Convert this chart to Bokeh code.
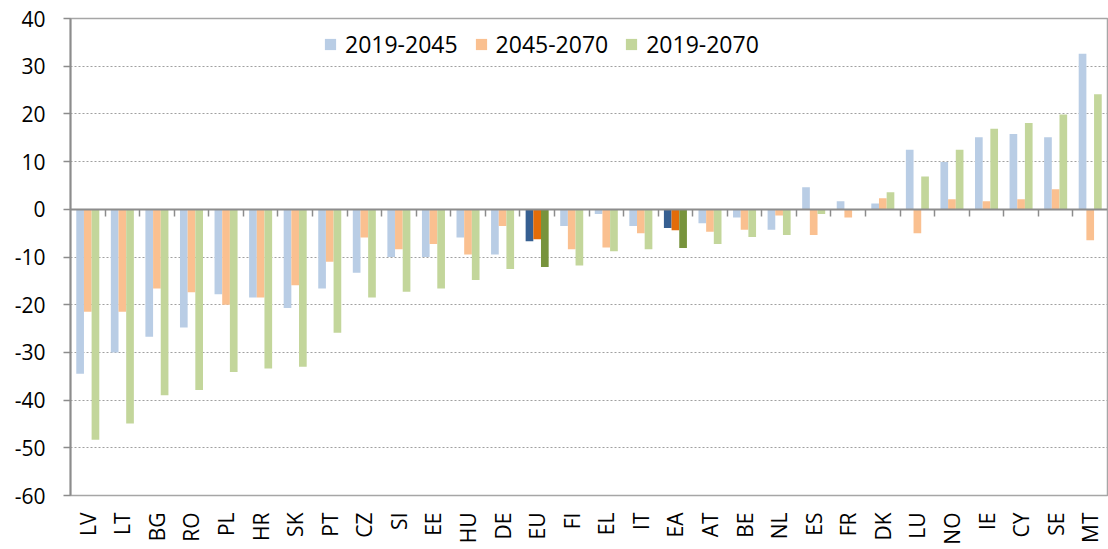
import math
from bokeh.plotting import figure
from bokeh.models import (ColumnDataSource, Range1d, LinearAxis, FixedTicker,
                          SingleIntervalTicker, Legend, LegendItem, CustomJSTickFormatter)
from bokeh.embed import file_html
from bokeh.resources import INLINE

# ---------------- data ----------------
categories = ["LV", "LT", "BG", "RO", "PL", "HR", "SK", "PT", "CZ", "SI", "EE", "HU",
              "DE", "EU", "FI", "EL", "IT", "EA", "AT", "BE", "NL", "ES", "FR", "DK",
              "LU", "NO", "IE", "CY", "SE", "MT"]
series_names = ["2019-2045", "2045-2070", "2019-2070"]
v_2019_2045 = [-34.5, -30.0, -26.7, -24.8, -17.8, -18.5, -20.7, -16.6, -13.3, -10.0,
               -10.0, -5.9, -9.5, -6.7, -3.5, -1.0, -3.5, -3.9, -2.9, -1.7,
               -4.3, 4.6, 1.7, 1.2, 12.5, 9.9, 15.1, 15.8, 15.1, 32.6]
v_2045_2070 = [-21.5, -21.5, -16.6, -17.4, -20.0, -18.5, -15.9, -11.0, -5.9, -8.4,
               -7.3, -9.5, -3.5, -6.3, -8.4, -8.0, -5.0, -4.4, -4.7, -4.3,
               -1.3, -5.4, -1.7, 2.3, -5.0, 2.1, 1.7, 2.1, 4.2, -6.5]
v_2019_2070 = [-48.3, -44.9, -39.0, -37.9, -34.1, -33.4, -33.0, -25.9, -18.5, -17.3,
               -16.6, -14.8, -12.5, -12.1, -11.8, -8.8, -8.4, -8.1, -7.3, -5.8,
               -5.4, -1.0, -0.2, 3.6, 6.9, 12.5, 16.9, 18.1, 19.9, 24.1]
highlight = ["EU", "EA"]
y_ticks = list(range(-60, 41, 10))

# ---------------- style ----------------
light_colors = ["#B9CDE5", "#FAC090", "#C3D69B"]
dark_colors = ["#365F91", "#E36C09", "#77933C"]
FONT = "Open Sans"
GRAY = "#8C8C8C"
bar_w = 0.222
offsets = [-bar_w, 0.0, bar_w]
n = len(categories)

p = figure(x_range=Range1d(0, n), y_range=Range1d(-60, 40),
           width=1108, height=549, output_backend="svg", toolbar_location=None,
           min_border_left=70, min_border_right=1, min_border_top=18,
           min_border_bottom=54)
p.background_fill_color = "white"
p.border_fill_color = "white"
p.outline_line_color = "#A6A6A6"
p.outline_line_width = 1.5

# grid
p.xgrid.visible = False
p.ygrid.ticker = SingleIntervalTicker(interval=10)
p.ygrid.grid_line_color = "#A0A0A0"
p.ygrid.grid_line_dash = "2 2"
p.ygrid.grid_line_width = 1

# y axis
p.yaxis.ticker = FixedTicker(ticks=y_ticks)
p.yaxis.formatter = CustomJSTickFormatter(code="return tick.toFixed(0);")
p.yaxis.axis_line_color = GRAY
p.yaxis.axis_line_width = 2
p.yaxis.major_tick_line_color = GRAY
p.yaxis.major_tick_line_width = 1.5
p.yaxis.major_tick_out = 7
p.yaxis.major_tick_in = 0
p.yaxis.minor_tick_line_color = None
p.yaxis.major_label_standoff = 18
p.yaxis.major_label_text_font = FONT
p.yaxis.major_label_text_font_size = "21px"
p.yaxis.major_label_text_color = "black"

# category labels axis (bottom), text reading bottom-to-top
p.xaxis.ticker = FixedTicker(ticks=[i + 0.5 for i in range(n)])
p.xaxis.formatter = CustomJSTickFormatter(args=dict(cats=categories),
                                          code="return cats[Math.floor(tick)] || '';")
p.xaxis.axis_line_color = None
p.xaxis.major_tick_line_color = None
p.xaxis.minor_tick_line_color = None
p.xaxis.major_tick_out = 0
p.xaxis.major_tick_in = 0
p.xaxis.major_label_orientation = math.pi / 2
p.xaxis.major_label_standoff = 17
p.xaxis.major_label_text_font = FONT
p.xaxis.major_label_text_font_size = "21px"
p.xaxis.major_label_text_color = "black"

# zero axis with category-boundary ticks
zero_axis = LinearAxis(fixed_location=0,
                       ticker=FixedTicker(ticks=list(range(1, n))),
                       formatter=CustomJSTickFormatter(code="return '';"),
                       major_tick_in=7, major_tick_out=0,
                       major_tick_line_color=GRAY, major_tick_line_width=1.5,
                       minor_tick_line_color=None,
                       axis_line_color=GRAY, axis_line_width=2,
                       major_label_text_font_size="1px", major_label_standoff=0)
p.add_layout(zero_axis, "above")

# bars
all_series = [v_2019_2045, v_2045_2070, v_2019_2070]
legend_items = []
for k, vals in enumerate(all_series):
    xs = [i + 0.5 + offsets[k] for i in range(n)]
    norm = [(x, v) for x, c, v in zip(xs, categories, vals) if c not in highlight]
    hil = [(x, v) for x, c, v in zip(xs, categories, vals) if c in highlight]
    src_n = ColumnDataSource(dict(x=[a for a, _ in norm], val=[b for _, b in norm]))
    src_h = ColumnDataSource(dict(x=[a for a, _ in hil], val=[b for _, b in hil]))
    r = p.vbar(x="x", top="val", bottom=0, width=bar_w, source=src_n,
               fill_color=light_colors[k], line_color=None)
    p.vbar(x="x", top="val", bottom=0, width=bar_w, source=src_h,
           fill_color=dark_colors[k], line_color=None)
    legend_items.append(LegendItem(label=series_names[k], renderers=[r]))

legend = Legend(items=legend_items, location=(253, 435), orientation="horizontal",
                border_line_color=None, background_fill_alpha=0, padding=0, margin=0,
                glyph_width=14, glyph_height=14, label_standoff=8, spacing=16,
                label_text_font=FONT, label_text_font_size="23px",
                label_text_color="black")
p.add_layout(legend)

open("out.html", "w").write(file_html(p, INLINE))
